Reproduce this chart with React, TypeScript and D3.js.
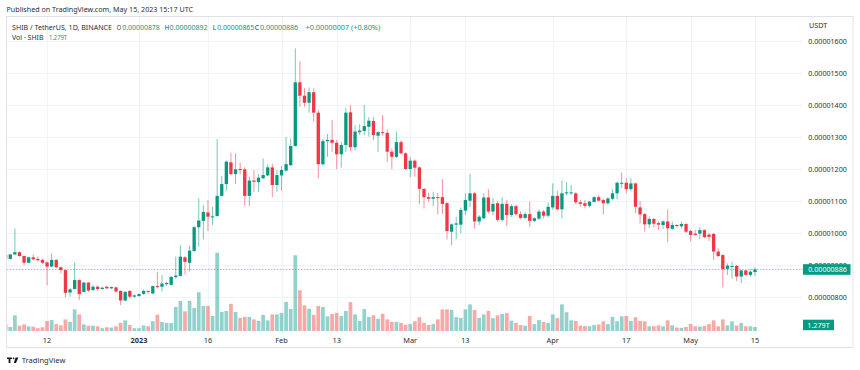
import React from 'react';
import * as d3 from 'd3';

// Daily candles SHIB/USDT. Prices are in 1e-8 USDT, volume in trillions of SHIB.
// Each row: [open, high, low, close, volume]
const dec2022: number[][] = [
  [931, 933, 918, 920, 2.1], [919, 935, 917, 933, 1.3], [933, 1014, 931, 940, 5.0], [940, 942, 926, 928, 1.7],
  [928, 930, 900, 907, 2.1], [907, 926, 905, 924, 1.5], [924, 933, 914, 918, 1.4], [919, 927, 912, 915, 0.9],
  [916, 920, 903, 907, 1.2], [908, 912, 837, 895, 3.2], [895, 936, 893, 916, 3.5], [916, 918, 890, 893, 2.2],
  [893, 895, 874, 884, 1.8], [884, 886, 799, 813, 3.7], [814, 829, 801, 824, 2.9], [825, 908, 823, 853, 6.9],
  [853, 855, 791, 809, 5.3], [816, 847, 814, 845, 2.1], [845, 847, 816, 820, 1.7], [822, 837, 818, 832, 1.7],
  [832, 836, 820, 825, 1.5], [825, 833, 823, 829, 0.9], [832, 835, 824, 827, 1.2], [827, 833, 825, 831, 1.1],
  [830, 833, 815, 817, 1.5], [819, 821, 775, 789, 2.6], [789, 818, 786, 816, 3.4], [819, 821, 794, 801, 1.9],
  [801, 808, 798, 805, 0.9],
];
const jan2023: number[][] = [
  [803, 812, 800, 809, 0.9], [810, 823, 806, 819, 1.8], [819, 820, 810, 816, 1.5], [811, 836, 809, 834, 3.1],
  [834, 879, 827, 832, 5.2], [832, 869, 817, 842, 2.9], [840, 848, 835, 844, 2.6], [838, 865, 835, 863, 2.5],
  [862, 926, 858, 867, 7.7], [866, 962, 864, 926, 9.6], [924, 928, 870, 910, 6.3], [907, 960, 880, 945, 9.6],
  [944, 1022, 940, 1018, 7.4], [1018, 1108, 957, 1039, 12.4], [1038, 1087, 980, 1066, 8.0], [1064, 1103, 1006, 1051, 8.0],
  [1049, 1082, 1025, 1052, 4.8], [1053, 1294, 1051, 1116, 25.0], [1116, 1178, 1114, 1153, 6.1], [1153, 1227, 1132, 1223, 6.4],
  [1221, 1251, 1180, 1184, 8.7], [1184, 1249, 1153, 1199, 6.1], [1200, 1220, 1184, 1197, 4.2], [1199, 1205, 1085, 1116, 4.5],
  [1116, 1176, 1084, 1164, 4.5], [1164, 1197, 1129, 1160, 3.7], [1159, 1184, 1129, 1173, 3.2], [1171, 1233, 1168, 1181, 5.1],
  [1180, 1214, 1178, 1205, 3.4], [1205, 1216, 1112, 1150, 5.3], [1150, 1197, 1129, 1181, 5.3],
];
const feb2023: number[][] = [
  [1180, 1209, 1132, 1197, 5.8], [1195, 1300, 1192, 1215, 9.3], [1212, 1295, 1209, 1272, 7.0], [1272, 1577, 1270, 1471, 24.2],
  [1471, 1537, 1395, 1429, 13.0], [1429, 1452, 1395, 1407, 8.2], [1407, 1455, 1376, 1440, 7.1], [1440, 1452, 1348, 1376, 5.1],
  [1376, 1384, 1171, 1215, 8.0], [1215, 1294, 1210, 1287, 7.7], [1287, 1309, 1238, 1291, 4.7], [1291, 1353, 1254, 1282, 5.4],
  [1282, 1291, 1199, 1246, 5.8], [1246, 1284, 1204, 1275, 4.8], [1275, 1390, 1254, 1376, 6.4], [1377, 1400, 1256, 1268, 9.2],
  [1268, 1337, 1259, 1317, 5.3], [1315, 1340, 1306, 1320, 3.2], [1319, 1400, 1306, 1334, 7.0], [1332, 1362, 1301, 1351, 4.5],
  [1350, 1362, 1290, 1306, 5.0], [1304, 1318, 1254, 1315, 3.9], [1315, 1369, 1304, 1312, 5.5], [1313, 1324, 1222, 1254, 3.7],
  [1254, 1263, 1199, 1238, 2.9], [1238, 1317, 1235, 1284, 2.9], [1284, 1290, 1246, 1249, 2.6], [1249, 1252, 1197, 1200, 2.0],
];
const mar2023: number[][] = [
  [1200, 1238, 1174, 1226, 2.2], [1226, 1230, 1176, 1204, 3.1], [1205, 1208, 1090, 1138, 4.4], [1138, 1140, 1077, 1112, 2.6],
  [1112, 1126, 1098, 1107, 1.9], [1107, 1129, 1084, 1112, 2.2], [1112, 1125, 1059, 1110, 3.7], [1112, 1168, 1059, 1091, 6.9],
  [1093, 1097, 980, 1006, 6.9], [1004, 1030, 962, 1027, 6.7], [1026, 1051, 980, 1030, 4.4], [1026, 1080, 999, 1072, 4.2],
  [1070, 1125, 1056, 1103, 6.9], [1101, 1185, 1080, 1124, 8.5], [1124, 1129, 1013, 1036, 6.7], [1036, 1056, 1025, 1051, 4.2],
  [1046, 1124, 1044, 1111, 5.3], [1111, 1137, 1060, 1067, 6.4], [1067, 1110, 1055, 1091, 4.1], [1093, 1100, 1035, 1041, 5.0],
  [1041, 1113, 1035, 1091, 5.4], [1091, 1104, 1022, 1056, 5.7], [1056, 1090, 1050, 1084, 3.3], [1084, 1089, 1054, 1059, 2.6],
  [1059, 1068, 1043, 1047, 1.9], [1047, 1066, 1045, 1059, 1.7], [1059, 1098, 1018, 1038, 4.8], [1038, 1050, 1034, 1046, 2.2],
  [1045, 1074, 1040, 1067, 3.5], [1067, 1072, 1046, 1054, 2.9], [1054, 1095, 1049, 1082, 2.6],
];
const apr2023: number[][] = [
  [1080, 1155, 1073, 1116, 5.3], [1116, 1132, 1070, 1074, 4.1], [1074, 1163, 1046, 1124, 8.5], [1124, 1159, 1118, 1127, 6.0],
  [1124, 1150, 1118, 1127, 3.4], [1124, 1127, 1090, 1096, 3.2], [1096, 1103, 1082, 1091, 1.7], [1093, 1103, 1077, 1085, 1.6],
  [1085, 1100, 1080, 1098, 1.5], [1097, 1115, 1095, 1112, 1.9], [1112, 1119, 1098, 1101, 2.1], [1103, 1108, 1058, 1093, 3.1],
  [1093, 1112, 1088, 1108, 2.2], [1107, 1137, 1102, 1124, 4.5], [1124, 1160, 1105, 1157, 3.1], [1155, 1189, 1140, 1157, 4.7],
  [1157, 1171, 1124, 1137, 4.8], [1137, 1171, 1130, 1155, 3.2], [1155, 1157, 1062, 1082, 4.4], [1080, 1100, 1030, 1058, 3.2],
  [1059, 1063, 1004, 1027, 3.1], [1027, 1052, 1015, 1044, 1.5], [1044, 1046, 1017, 1029, 1.5], [1031, 1037, 1009, 1026, 1.8],
  [1025, 1040, 1012, 1036, 1.5], [1036, 1074, 971, 1015, 3.4], [1013, 1036, 1010, 1025, 1.8], [1025, 1028, 1017, 1022, 1.1],
  [1021, 1036, 1014, 1028, 1.0], [1028, 1031, 1000, 1004, 1.3],
];
const may2023: number[][] = [
  [1006, 1010, 973, 994, 2.2], [998, 1010, 990, 994, 1.5], [998, 1018, 981, 1009, 1.4], [1009, 1012, 984, 987, 1.6],
  [995, 1000, 975, 988, 2.2], [997, 1000, 916, 942, 3.4], [942, 952, 925, 928, 1.5], [931, 934, 830, 887, 3.7],
  [888, 905, 869, 898, 1.8], [896, 910, 858, 897, 3.1], [897, 900, 850, 864, 1.8], [864, 885, 843, 883, 2.6],
  [883, 884, 866, 869, 1.5], [869, 887, 862, 879, 1.5], [878, 892, 865, 886, 1.279],
];

const firstDay = Date.UTC(2022, 11, 3);
const priceTicks = [800, 900, 1000, 1100, 1200, 1300, 1400, 1500, 1600];
const timeTickDates = ['2022-12-12', '2023-01-01', '2023-01-16', '2023-02-01', '2023-02-13', '2023-03-01',
  '2023-03-13', '2023-04-01', '2023-04-17', '2023-05-01', '2023-05-15'];
const timeTickLabels = ['12', '2023', '16', 'Feb', '13', 'Mar', '13', 'Apr', '17', 'May', '15'];

const UP = '#089981';
const DOWN = '#f23645';
const UP_VOL = 'rgba(38,166,154,0.5)';
const DOWN_VOL = 'rgba(239,83,80,0.5)';
const TEXT = '#2a2e39';
const FONT = '"Noto Sans", "Open Sans", sans-serif';

const plot = { left: 7, right: 803, top: 17, bottom: 331 };

const fmt = (v: number) => (v / 1e8).toFixed(8);

export default function App() {
  const rows = [...dec2022, ...jan2023, ...feb2023, ...mar2023, ...apr2023, ...may2023];
  const candles = rows.map((r, i) => ({
    date: d3.utcDay.offset(new Date(firstDay), i),
    o: r[0], h: r[1], l: r[2], c: r[3], v: r[4],
  }));

  const x = d3.scaleUtc()
    .domain([new Date(Date.UTC(2023, 0, 1)), new Date(Date.UTC(2023, 4, 15))])
    .range([139, 755]);
  const y = d3.scaleLinear().domain([800, 1600]).range([297, 41]);
  const vy = d3.scaleLinear().domain([0, 25]).range([plot.bottom, 252.75]);

  const bodyW = 3.3;
  const volW = 3.7;

  const last = candles[candles.length - 1];
  const prev = candles[candles.length - 2];
  const chg = last.c - prev.c;
  const chgText = `+${fmt(chg)} (+${((chg / prev.c) * 100).toFixed(2)}%)`;

  const ticks = timeTickDates.map((d, i) => ({ x: x(new Date(d + 'T00:00:00Z')), label: timeTickLabels[i] }));

  // legend pieces: [text, x, width, coloured]
  const legend: [string, number, number, boolean][] = [
    ['SHIB / TetherUS, 1D, BINANCE', 12, 100, false],
    ['O', 116.8, 4.4, false], [fmt(last.o), 122.3, 37.5, true],
    ['H', 164.8, 4.4, false], [fmt(last.h), 169.6, 38, true],
    ['L', 212.8, 3.4, false], [fmt(last.l), 217.2, 37, true],
    ['C', 254.8, 4.4, false], [fmt(last.c), 260, 38, true],
    [chgText, 305.6, 74.5, true],
  ];

  return (
    <div style={{ position: 'fixed', left: 0, top: 0 }}>
      <svg width={860} height={370} style={{ display: 'block', background: '#fff', fontFamily: FONT }}>
        <defs>
          <clipPath id="plotClip">
            <rect x={plot.left} y={plot.top} width={plot.right - plot.left} height={plot.bottom - plot.top} />
          </clipPath>
        </defs>

        <text x={6.5} y={12.3} fontSize={7.4} fill={TEXT} textLength={186.5} lengthAdjust="spacingAndGlyphs">
          Published on TradingView.com, May 15, 2023 15:17 UTC
        </text>

        {/* pane frame */}
        <rect x={6.5} y={16.5} width={846.5} height={331} fill="none" stroke="#e0e3eb" strokeWidth={1} />

        {/* grid */}
        <g stroke="#f0f3fa" strokeWidth={1}>
          {priceTicks.map((p) => (
            <line key={p} x1={plot.left} x2={plot.right} y1={Math.round(y(p)) + 0.5} y2={Math.round(y(p)) + 0.5} />
          ))}
          {ticks.map((t, i) => (
            <line key={i} x1={Math.round(t.x) + 0.5} x2={Math.round(t.x) + 0.5} y1={plot.top} y2={plot.bottom + 2} />
          ))}
        </g>

        <g clipPath="url(#plotClip)">
          {/* volume */}
          {candles.map((d, i) => (
            <rect key={'v' + i} x={x(d.date) - volW / 2} y={vy(d.v)} width={volW} height={vy(0) - vy(d.v)}
              fill={d.c >= d.o ? UP_VOL : DOWN_VOL} />
          ))}

          {/* last price line */}
          <line x1={plot.left} x2={plot.right} y1={Math.round(y(last.c)) + 0.5} y2={Math.round(y(last.c)) + 0.5}
            stroke="#26a69a" strokeOpacity={0.55} strokeWidth={1} strokeDasharray="1.5 1.5" />

          {/* candles */}
          {candles.map((d, i) => {
            const col = d.c >= d.o ? UP : DOWN;
            const cx = x(d.date);
            const top = y(Math.max(d.o, d.c));
            const bot = y(Math.min(d.o, d.c));
            return (
              <g key={'c' + i}>
                <line x1={cx} x2={cx} y1={y(d.h)} y2={y(d.l)} stroke={col} strokeOpacity={0.55} strokeWidth={1} />
                <rect x={cx - bodyW / 2} y={top} width={bodyW} height={Math.max(1, bot - top)} fill={col} />
              </g>
            );
          })}
        </g>

        {/* price scale */}
        <text x={809} y={27.5} fontSize={7.2} fill={TEXT}>USDT</text>
        {priceTicks.map((p) => (
          <text key={p} x={808.3} y={y(p)} dy="0.35em" fontSize={7.2} fill={TEXT}
            textLength={38.5} lengthAdjust="spacingAndGlyphs">{fmt(p)}</text>
        ))}
        <rect x={803} y={y(last.c) - 5.3} width={47.5} height={10.6} fill={UP} />
        <text x={808.3} y={y(last.c)} dy="0.35em" fontSize={7.2} fill="#fff"
          textLength={38.5} lengthAdjust="spacingAndGlyphs">{fmt(last.c)}</text>
        <rect x={803} y={vy(0) - 11.3} width={31} height={10.5} fill={UP} />
        <text x={818.5} y={vy(0) - 6} dy="0.35em" fontSize={7.2} fill="#fff" textAnchor="middle">{last.v.toFixed(3)}T</text>

        {/* time scale */}
        {ticks.map((t, i) => (
          <text key={i} x={t.x} y={342.6} fontSize={7.4} fill={TEXT} textAnchor="middle"
            fontWeight={t.label === '2023' ? 'bold' : 'normal'}>{t.label}</text>
        ))}

        {/* legend */}
        {legend.map(([s, lx, lw, col], i) => (
          <text key={i} x={lx} y={30.3} fontSize={7.2} fill={col ? UP : TEXT}
            textLength={lw} lengthAdjust="spacingAndGlyphs">{s}</text>
        ))}
        <text x={12} y={40} fontSize={7.2} fill={TEXT} textLength={31.5} lengthAdjust="spacingAndGlyphs">Vol · SHIB</text>
        <text x={49} y={40} fontSize={7.2} fill={UP} textLength={18} lengthAdjust="spacingAndGlyphs">{last.v.toFixed(3)}T</text>

        {/* footer logo */}
        <g fill="#131722">
          <path d="M7 357.5h5v1.6h-1.6v4h-1.8v-4H7z" />
          <circle cx={13.6} cy={358.3} r={0.9} />
          <path d="M15.6 357.5h2.8l-2.4 5.6h-2.2z" />
        </g>
        <text x={21.7} y={363} fontSize={7.6} fill={TEXT}>TradingView</text>
      </svg>
    </div>
  );
}
